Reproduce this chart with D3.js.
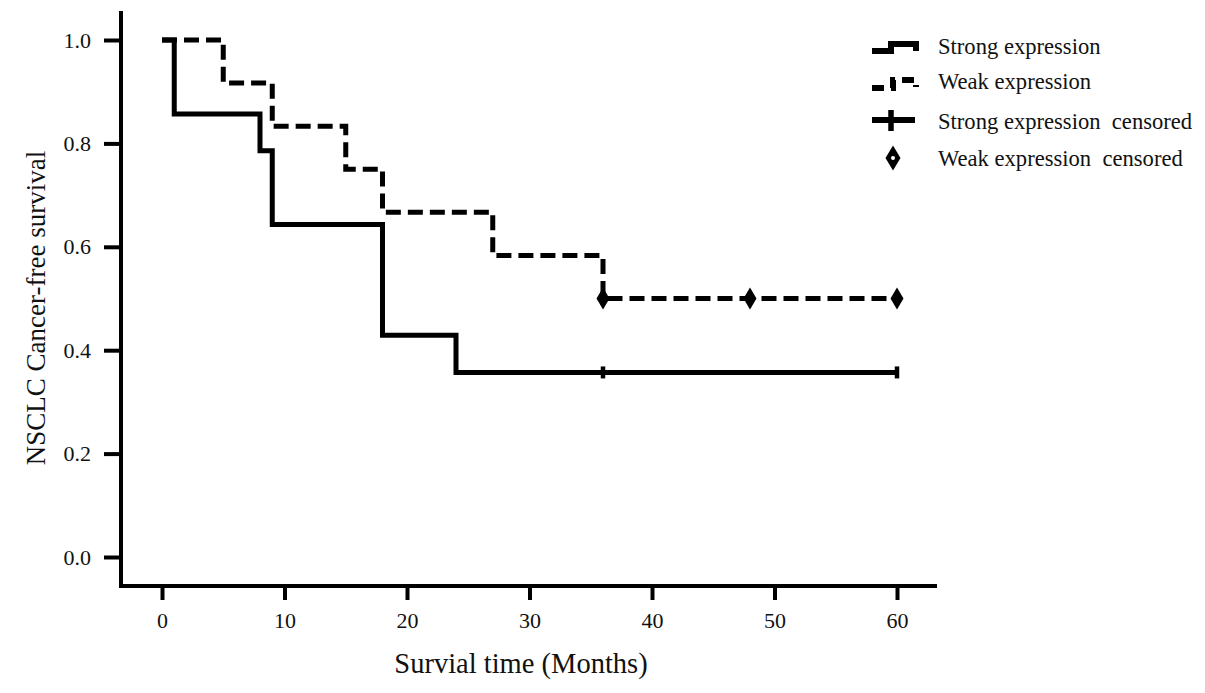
<!DOCTYPE html>
<html><head><meta charset="utf-8">
<script src="https://cdn.jsdelivr.net/npm/d3@7"></script>
<style>body{margin:0;background:#fff}svg{display:block}svg text{font-family:"Liberation Serif","Times New Roman",serif !important;fill:#111}</style>
</head><body><svg id="c" width="1205" height="693"></svg>
<script>
// Data
const strongTimes = [0, 1, 8, 9, 18, 24, 60];
const strongSurv  = [1.0, 0.857, 0.786, 0.643, 0.429, 0.357, 0.357];
const weakTimes   = [0, 5, 9, 15, 18, 27, 36, 60];
const weakSurv    = [1.0, 0.917, 0.833, 0.75, 0.667, 0.583, 0.5, 0.5];
const strongCensored = [36, 60];
const weakCensored = [36, 48, 60];
const xTicks = [0, 10, 20, 30, 40, 50, 60];
const yTicks = [0.0, 0.2, 0.4, 0.6, 0.8, 1.0];
const legendLabels = ["Strong expression", "Weak expression", "Strong expression  censored", "Weak expression  censored"];

const svg = d3.select("#c");
const x = d3.scaleLinear().domain([0, 60]).range([162, 897]);
const y = d3.scaleLinear().domain([0, 1]).range([557, 40]);
const FONT = '"Liberation Serif","Times New Roman",serif';

// axes
const xAxis = svg.append("g").attr("transform", "translate(0,586)")
  .call(d3.axisBottom(x).tickValues(xTicks).tickSize(14).tickPadding(12).tickFormat(d3.format("d")));
const yAxis = svg.append("g").attr("transform", "translate(121,0)")
  .call(d3.axisLeft(y).tickValues(yTicks).tickSize(17).tickPadding(13).tickFormat(d3.format(".1f")));
[xAxis, yAxis].forEach(g => {
  g.attr("font-family", FONT).attr("font-size", 22);
  g.select(".domain").remove();
  g.selectAll(".tick line").attr("stroke", "#000").attr("stroke-width", 4);
  g.selectAll(".tick text").style("font-size", "22px").style("font-family", FONT).attr("fill", "#111");
});
svg.append("line").attr("x1", 121).attr("x2", 121).attr("y1", 11).attr("y2", 588).attr("stroke", "#000").attr("stroke-width", 4);
svg.append("line").attr("x1", 119).attr("x2", 937).attr("y1", 586).attr("y2", 586).attr("stroke", "#000").attr("stroke-width", 4);

// titles
svg.append("text").attr("x", 521).attr("y", 673).attr("text-anchor", "middle").style("font-size", "28.5px").style("font-family", FONT).text("Survial time (Months)");
svg.append("text").attr("transform", "translate(45,308) rotate(-90)").attr("text-anchor", "middle").style("font-size", "27px").style("font-family", FONT).text("NSCLC Cancer-free survival");

// curves
const line = d3.line().x(d => x(d[0])).y(d => y(d[1])).curve(d3.curveStepAfter);
const weakData = weakTimes.map((t, i) => [t, weakSurv[i]]);
const strongData = strongTimes.map((t, i) => [t, strongSurv[i]]);
svg.append("path").datum(weakData).attr("d", line).attr("fill", "none").attr("stroke", "#000")
  .attr("stroke-width", 5).attr("stroke-dasharray", "15,7");
svg.append("path").datum(strongData).attr("d", line).attr("fill", "none").attr("stroke", "#000")
  .attr("stroke-width", 5);

// censored marks
function survAt(times, surv, t) { let v = surv[0]; times.forEach((tt, i) => { if (tt <= t) v = surv[i]; }); return v; }
svg.selectAll(".sc").data(strongCensored).enter().append("line")
  .attr("x1", d => x(d)).attr("x2", d => x(d))
  .attr("y1", d => y(survAt(strongTimes, strongSurv, d)) - 6)
  .attr("y2", d => y(survAt(strongTimes, strongSurv, d)) + 6)
  .attr("stroke", "#000").attr("stroke-width", 4.5);
const diamond = (cx, cy, w, h) => `M${cx},${cy - h / 2}L${cx + w / 2},${cy}L${cx},${cy + h / 2}L${cx - w / 2},${cy}Z`;
svg.selectAll(".wc").data(weakCensored).enter().append("path")
  .attr("d", d => diamond(x(d), y(survAt(weakTimes, weakSurv, d)), 13, 22)).attr("fill", "#000");

// legend
const lg = svg.append("g");
lg.append("path").attr("d", "M872,51H891V44H916V51").attr("fill", "none").attr("stroke", "#000").attr("stroke-width", 6);
lg.append("path").attr("d", "M872,88H893V80H916V87").attr("fill", "none").attr("stroke", "#000").attr("stroke-width", 6).attr("stroke-dasharray", "12,7");
lg.append("line").attr("x1", 872).attr("x2", 915).attr("y1", 120).attr("y2", 120).attr("stroke", "#000").attr("stroke-width", 6);
lg.append("line").attr("x1", 891).attr("x2", 891).attr("y1", 110).attr("y2", 131).attr("stroke", "#000").attr("stroke-width", 5.5);
lg.append("path").attr("d", diamond(893, 158, 15, 25)).attr("fill", "#000");
lg.append("circle").attr("cx", 893).attr("cy", 158).attr("r", 2).attr("fill", "#fff");
const ly = [46, 81, 121, 158];
legendLabels.forEach((t, i) => {
  lg.append("text").attr("x", 938).attr("y", ly[i]).attr("dy", "0.35em").style("font-size", "22.6px").style("font-family", FONT).style("white-space", "pre").text(t);
});
</script></body></html>
